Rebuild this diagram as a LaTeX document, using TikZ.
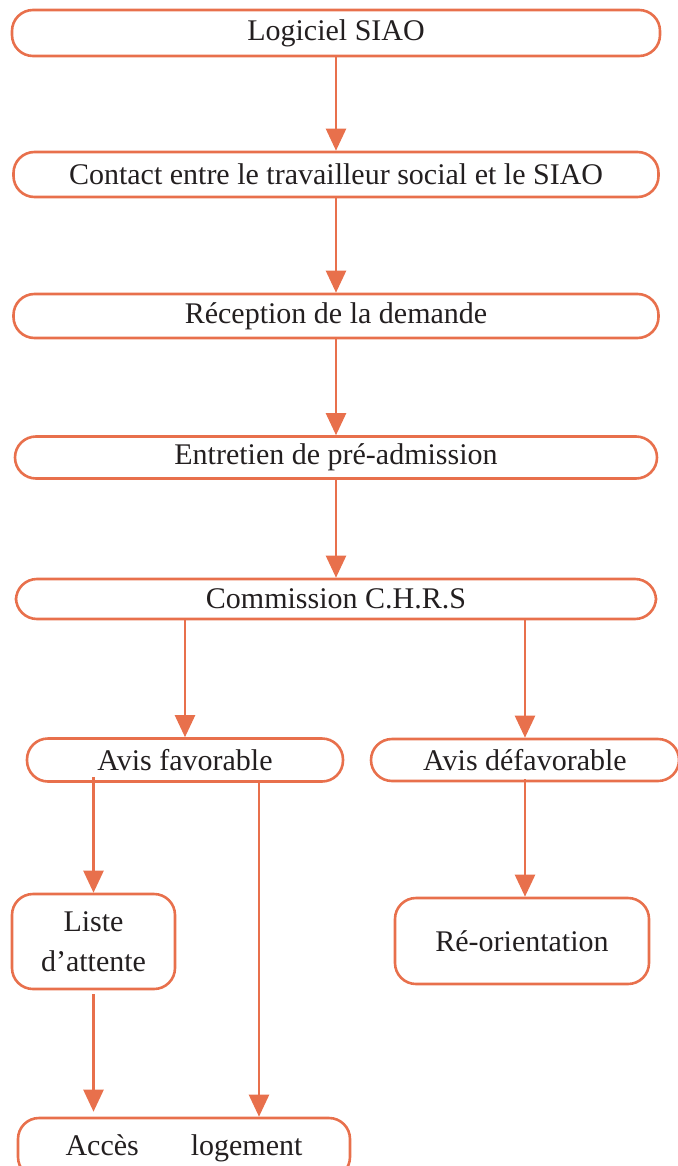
\documentclass[tikz,border=0pt]{standalone}
\usepackage{fontspec}
\setmainfont{Liberation Serif}
\usepackage{tikz}
\usetikzlibrary{arrows.meta, positioning}
\definecolor{siaoorange}{RGB}{232,112,76}
\definecolor{siaotext}{RGB}{35,31,32}

\begin{document}
\begin{tikzpicture}[x=1pt,y=-1pt,->,>={Triangle[length=22pt,width=20pt]},line width=2.4pt,
                    draw=siaoorange,node distance=141.5pt]
\tikzstyle{etape}=[draw=siaoorange,line width=2.6pt,rounded corners=21pt,text=siaotext,minimum height=44pt,inner sep=0pt]
\tikzset{font=\fontsize{30pt}{40pt}\selectfont}

        \useasboundingbox (0,0) rectangle (677,1166);

        % chaine principale
        \node[etape,minimum width=648pt,minimum height=46pt]   (logiciel) at (336,33)             {Logiciel SIAO};
        \node[etape,minimum width=645pt,minimum height=45pt]   (contact)    [below of=logiciel]   {Contact entre le travailleur social et le SIAO};
        \node[etape,minimum width=645pt,minimum height=44pt]   (reception)  [below of=contact]    {Réception de la demande};
        \node[etape,minimum width=642pt,minimum height=42pt]   (entretien)  [below of=reception]  {Entretien de pré-admission};
        \node[etape,minimum width=640pt,minimum height=40pt]   (commission) [below of=entretien]  {Commission C.H.R.S};

        % avis
        \node[etape,minimum width=316pt,minimum height=43pt]   (fav)    at (185,760)     {Avis favorable};
        \node[etape,minimum width=308pt,minimum height=42pt]   (defav)  at (525,760)     {Avis défavorable};

        \node[etape,minimum width=163pt,minimum height=95pt,align=center]   (liste)  at (93.5,941.5)  {Liste\\d’attente};
        \node[etape,minimum width=254pt,minimum height=86pt]   (reo)    at (522,941)     {Ré-orientation};
        \node[etape,minimum width=332pt,minimum height=60pt]   (acces)  at (184,1148)    {Accès\hspace{52pt}logement};

        \path[->]
        (logiciel)   edge            (contact)
        (contact)    edge            (reception)
        (reception)  edge            (entretien)
        (entretien)  edge            (commission)
        (commission.south -| fav)    edge   (fav)
        (commission.south -| defav)  edge   (defav)
        ([yshift=6pt]fav.south -| liste)     edge   (liste)
        ([xshift=74pt]fav.south)     edge   ([xshift=74pt]fav.south |- acces.north)
        (liste.south)                edge[shorten <=4pt,shorten >=5pt]   (liste.south |- acces.north)
        ([yshift=3pt]defav.south)    edge   (defav.south |- reo.north)
        ; %end path

\end{tikzpicture}
\end{document}
